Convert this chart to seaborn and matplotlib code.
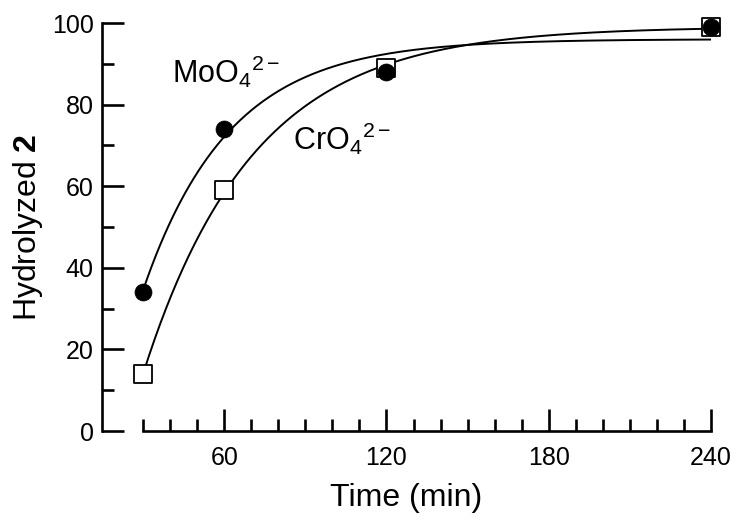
import numpy as np
import pandas as pd
import matplotlib
matplotlib.use("Agg")
import matplotlib.pyplot as plt
import seaborn as sns
from matplotlib.ticker import FixedLocator

# ---- data ----
time_min = [30, 60, 120, 240]
moo4_pct = [34, 74, 88, 99]
cro4_pct = [14, 59, 89, 99]
x_major = [60, 120, 180, 240]
y_major = [0, 20, 40, 60, 80, 100]

sns.set_theme(style="ticks")
plt.rcParams["font.family"] = ["Liberation Sans", "DejaVu Sans"]
plt.rcParams["mathtext.fontset"] = "custom"
plt.rcParams["mathtext.rm"] = "Liberation Sans"
plt.rcParams["mathtext.it"] = "Liberation Sans:italic"
plt.rcParams["mathtext.bf"] = "Liberation Sans:bold"
plt.rcParams["text.color"] = "black"
plt.rcParams["axes.labelcolor"] = "black"
plt.rcParams["xtick.color"] = "black"
plt.rcParams["ytick.color"] = "black"
plt.rcParams["axes.edgecolor"] = "black"


def fit_first_order(t, y):
    """Least-squares fit of y = A(1 - exp(-k (t - t0)))."""
    t = np.asarray(t, float)
    y = np.asarray(y, float)
    best = None
    for k in np.linspace(0.005, 0.12, 400):
        for t0 in np.linspace(0, 29.5, 120):
            g = 1 - np.exp(-k * (t - t0))
            A = (g @ y) / (g @ g)
            r = np.sum((y - A * g) ** 2)
            if best is None or r < best[0]:
                best = (r, A, k, t0)
    return best[1:]


tt = np.linspace(time_min[0], time_min[-1], 400)
curves = {}
for name, vals in [("MoO4", moo4_pct), ("CrO4", cro4_pct)]:
    A, k, t0 = fit_first_order(time_min, vals)
    curves[name] = A * (1 - np.exp(-k * (tt - t0)))

fig = plt.figure(figsize=(7.5, 5.28), dpi=100)
ax = fig.add_axes([0.136, 0.1837, 0.812, 0.7727])

sns.lineplot(x=tt, y=curves["MoO4"], ax=ax, color="black", lw=1.4)
sns.lineplot(x=tt, y=curves["CrO4"], ax=ax, color="black", lw=1.4)

sns.scatterplot(x=time_min, y=cro4_pct, ax=ax, marker="s", s=180,
                facecolor="white", edgecolor="black", linewidth=1.3,
                zorder=3, clip_on=False)
sns.scatterplot(x=time_min, y=moo4_pct, ax=ax, marker="o", s=150,
                color="black", edgecolor="black", linewidth=0.5,
                zorder=4, clip_on=False)

ax.set_xlim(14.8, 240)
ax.set_ylim(0, 100)
for s in ["top", "right"]:
    ax.spines[s].set_visible(False)
ax.spines["left"].set_bounds(0, 100)
ax.spines["bottom"].set_bounds(30, 240)
for s in ["left", "bottom"]:
    ax.spines[s].set_linewidth(1.9)

ax.xaxis.set_major_locator(FixedLocator(x_major))
ax.xaxis.set_minor_locator(FixedLocator([v for v in range(30, 241, 10) if v not in x_major]))
ax.yaxis.set_major_locator(FixedLocator(y_major))
ax.yaxis.set_minor_locator(FixedLocator(list(range(10, 100, 20))))

ax.tick_params(which="major", direction="in", length=16, width=1.9, labelsize=18, color="black", labelcolor="black")
ax.tick_params(which="minor", direction="in", length=8.5, width=1.9, color="black")
ax.tick_params(axis="x", which="major", pad=11)
ax.tick_params(axis="y", which="major", pad=6)

ax.set_xlabel("Time (min)", fontsize=23, labelpad=9)
ax.set_ylabel(r"Hydrolyzed $\mathbf{2}$", fontsize=23, labelpad=5)

ax.text(40.7, 85.3, r"MoO$_4$$^{2-}$", fontsize=22, ha="left", va="baseline")
ax.text(85.5, 68.9, r"CrO$_4$$^{2-}$", fontsize=22, ha="left", va="baseline")

fig.savefig("out.png", dpi=100, facecolor="white")
